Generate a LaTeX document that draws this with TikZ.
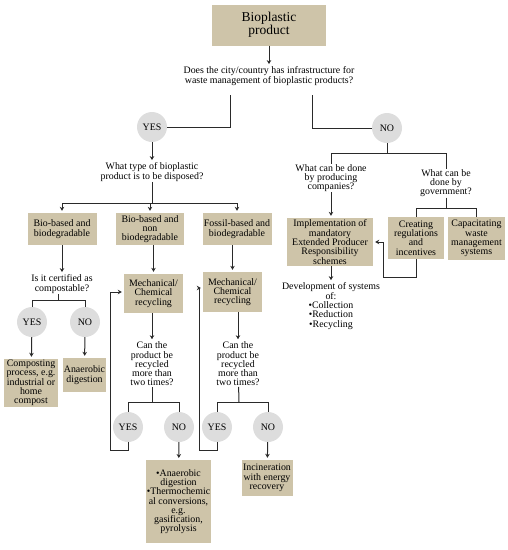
\documentclass[tikz,border=0pt]{standalone}
\usepackage{fontspec}
\setmainfont{Liberation Serif}
\usetikzlibrary{arrows.meta, positioning, calc}
\definecolor{boxtan}{HTML}{CEC4A9}
\definecolor{circgray}{HTML}{DDDDDD}
\definecolor{linegray}{HTML}{2A2A2A}

\begin{document}
\begin{tikzpicture}[x=1pt,y=-1pt,
        txt/.style={align=center,inner sep=0.5pt,font=\fontsize{9.9}{9.3}\selectfont},
        choice/.style={txt,fill=boxtan},
        answer/.style={circle,fill=circgray,minimum size=30pt,inner sep=0pt,font=\fontsize{9.9}{9.3}\selectfont},
        con/.style={linegray,line width=1pt},
        arr/.style={con,-{Stealth[length=4pt,width=4.5pt]},shorten >=2pt}]
        \useasboundingbox (0,0) rectangle (508,550);
        % top of the chart
        \node[fill=boxtan,minimum width=114pt,minimum height=41pt,align=center,font=\fontsize{13.5}{13}\selectfont] (prod) at (269,25) {Bioplastic\\product};
        \node[txt] (infra) at (269,76) {Does the city/country has infrastructure for\\waste management of bioplastic products?};
        \node[answer] (yes) at (152,127) {YES};
        \node[answer] (no) at (387,128) {NO};
        \coordinate (infraL) at (230,95);
        \coordinate (infraR) at (312,95);
        \draw[arr] (prod) -- (infra);
        \draw[con] (infraL) |- (yes.east);
        \draw[con] (infraR) |- (no.west);
        % yes branch
        \node[txt] (type) at (152,172) {What type of bioplastic\\product is to be disposed?};
        \node[choice,minimum width=69pt,minimum height=32pt] (bbio) at (62,229) {Bio-based and\\biodegradable};
        \node[choice,minimum width=68pt,minimum height=32pt] (bnon) at (150,229) {Bio-based and\\non\\biodegradable};
        \node[choice,minimum width=69pt,minimum height=32pt] (fbio) at (237,229) {Fossil-based and\\biodegradable};
        \coordinate (typesplit) at (152,203);
        \draw[arr] (yes) -- (type);
        \draw[con] (type) -- (typesplit);
        \draw[arr] (typesplit) -| (bbio);
        \draw[arr] (typesplit) -- (typesplit -| bnon.north) -- (bnon);
        \draw[arr] (typesplit) -| (fbio);
        % bio-based and biodegradable
        \node[txt] (cert) at (62,284) {Is it certified as\\compostable?};
        \node[answer] (certyes) at (32,322) {YES};
        \node[answer] (certno) at (85,322) {NO};
        \node[choice,minimum width=54pt,minimum height=48pt] (compost) at (31,383) {Composting\\process, e.g.\\industrial or\\home\\compost};
        \node[choice,minimum width=43pt,minimum height=34pt] (anaer) at (84.5,375) {Anaerobic\\digestion};
        \coordinate (certsplit) at (58,300);
        \draw[arr] (bbio) -- (cert);
        \draw[con] (cert.south -| certsplit) -- (certsplit);
        \draw[con] (certsplit) -| (certyes);
        \draw[con] (certsplit) -| (certno);
        \draw[arr] (certyes) -- (compost);
        \draw[arr] (certno) -- (anaer);
        % non biodegradable and fossil-based
        \node[choice,minimum width=59pt,minimum height=39pt] (mechA) at (153.5,293.5) {Mechanical/\\Chemical\\recycling};
        \node[choice,minimum width=59pt,minimum height=40pt] (mechB) at (232.5,292) {Mechanical/\\Chemical\\recycling};
        \node[txt] (againA) at (152,364) {Can the\\product be\\recycled\\more than\\two times?};
        \node[txt] (againB) at (238,364) {Can the\\product be\\recycled\\more than\\two times?};
        \node[answer] (againAyes) at (128,427) {YES};
        \node[answer] (againAno) at (179,427) {NO};
        \node[answer] (againByes) at (217,427) {YES};
        \node[answer] (againBno) at (268,427) {NO};
        \node[choice,minimum width=65pt,minimum height=83pt,anchor=north] (thermo) at (178.5,460) {\textbullet Anaerobic\\digestion\\\textbullet Thermochemic\\al conversions,\\e.g.\\gasification,\\pyrolysis};
        \node[choice,minimum width=51pt,minimum height=36pt] (incin) at (267,478) {Incineration\\with energy\\recovery};
        \coordinate (splitA) at (152,402);
        \coordinate (splitB) at (239,402);
        \coordinate (loopA) at (110,450);
        \coordinate (loopB) at (199,450);
        \draw[arr] (bnon.south -| mechA) -- (mechA);
        \draw[arr] (fbio.south -| mechB) -- (mechB);
        \draw[arr] (mechA.south -| againA) -- (againA);
        \draw[arr] (mechB.south -| againB) -- (againB);
        \draw[con] (againA) -- (splitA);
        \draw[con] (againB) -- (splitB);
        \draw[con] (splitA) -| (againAyes);
        \draw[con] (splitA) -| (againAno);
        \draw[con] (splitB) -| (againByes);
        \draw[con] (splitB) -| (againBno);
        \draw[arr] (againAyes.south) |- (loopA) |- ([yshift=1.5pt]mechA.west);
        \draw[arr] (againByes.south) |- (loopB) |- ([yshift=4pt]mechB.west);
        \draw[arr] (againAno) -- (thermo);
        \draw[arr] (againBno) -- (incin);
        % no branch
        \node[txt] (firms) at (331,178) {What can be done\\by producing\\companies?};
        \node[txt] (gov) at (446,183) {What can be\\done by\\government?};
        \node[choice,minimum width=86pt,minimum height=48pt] (epr) at (330,242) {Implementation of\\mandatory\\Extended Producer\\Responsibility\\schemes};
        \node[choice,minimum width=56pt,minimum height=42pt] (rules) at (416,238) {Creating\\regulations\\and\\incentives};
        \node[choice,minimum width=57pt,minimum height=43pt] (capac) at (476.5,238.5) {Capacitating\\waste\\management\\systems};
        \node[txt] (devel) at (331,306) {Development of systems\\of:\\\textbullet Collection\\\textbullet Reduction\\\textbullet Recycling};
        \coordinate (nosplit) at (387,153);
        \coordinate (govsplit) at (446,208);
        \coordinate (rulesloop) at (383,277);
        \draw[con] (no) -- (nosplit);
        \draw[con] (nosplit) -| (firms);
        \draw[con] (nosplit) -| (gov);
        \draw[arr] (firms) -- (firms.south |- epr.north);
        \draw[arr] (epr.south -| devel) -- (devel);
        \draw[con] (gov) -- (govsplit);
        \draw[con] (govsplit) -| (rules);
        \draw[con] (govsplit) -| (capac);
        \draw[arr] (rules.south) |- (rulesloop) |- (epr.east);
\end{tikzpicture}
\end{document}
